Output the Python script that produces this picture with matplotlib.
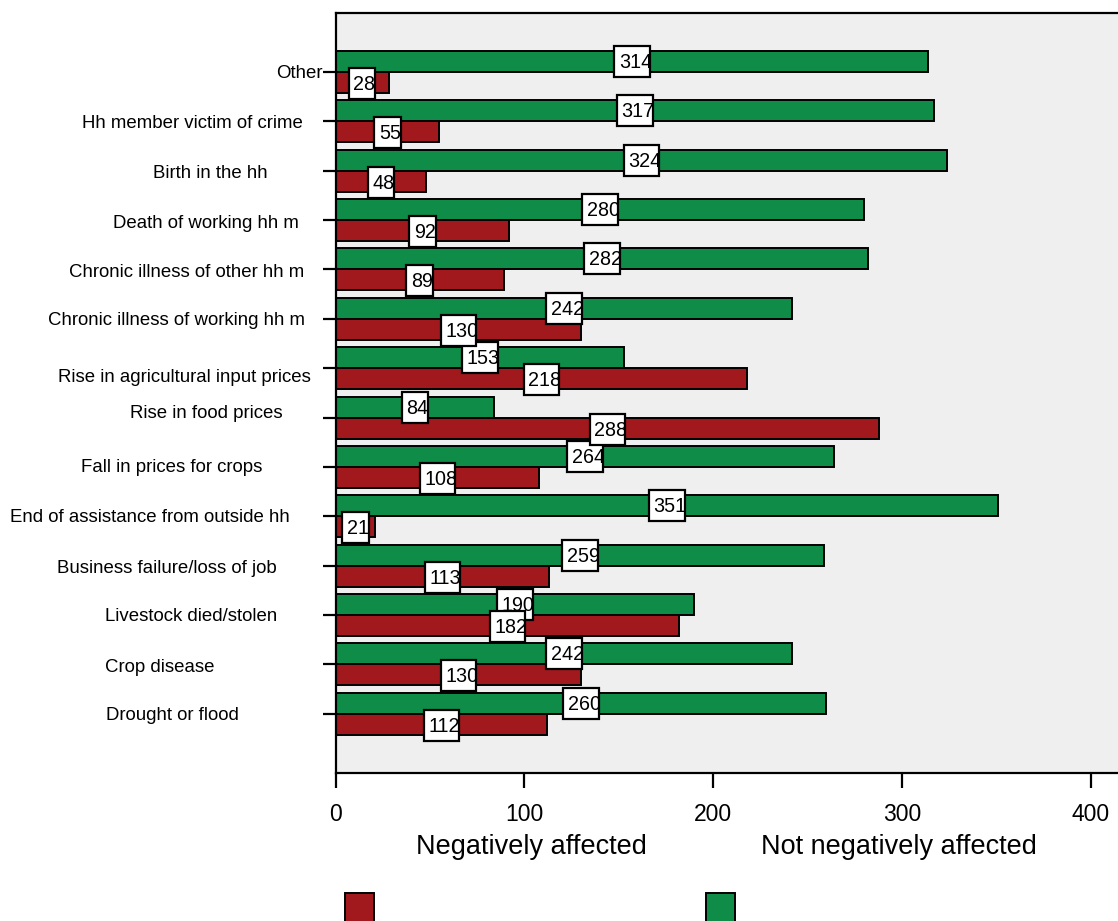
import matplotlib
matplotlib.use("Agg")
import matplotlib.pyplot as plt
from matplotlib.patches import Rectangle
from matplotlib.transforms import ScaledTranslation

# Shock categories, listed bottom to top as drawn
categories = [
    "Drought or flood",
    "Crop disease",
    "Livestock died/stolen",
    "Business failure/loss of job",
    "End of assistance from outside hh",
    "Fall in prices for crops",
    "Rise in food prices",
    "Rise in agricultural input prices",
    "Chronic illness of working hh m",
    "Chronic illness of other hh m",
    "Death of working hh m",
    "Birth in the hh",
    "Hh member victim of crime",
    "Other",
]
negatively_affected = [112, 130, 182, 113, 21, 108, 288, 218, 130, 89, 92, 48, 55, 28]
not_negatively_affected = [260, 242, 190, 259, 351, 264, 84, 153, 242, 282, 280, 324, 317, 314]
x_ticks = [0, 100, 200, 300, 400]
series_names = ["Negatively affected", "Not negatively affected"]

RED = "#a1181d"
GREEN = "#0f8c48"
BG = "#efefef"

DPI = 100
W, H = 1118, 921
fig = plt.figure(figsize=(W / DPI, H / DPI), dpi=DPI)
plt.rcParams["font.family"] = ["Liberation Sans", "DejaVu Sans"]

ax_left_px, ax_top_px, ax_bottom_px = 335.7, 12.7, 773.0
ax = fig.add_axes([ax_left_px / W, 1 - ax_bottom_px / H, 1 - ax_left_px / W,
                   (ax_bottom_px - ax_top_px) / H])
ax.set_facecolor(BG)

n = len(categories)
ypos = list(range(n))
bar_h = 0.425

ax.barh([y + bar_h / 2 for y in ypos], not_negatively_affected, height=bar_h,
        color=GREEN, edgecolor="black", linewidth=1.4, zorder=2)
ax.barh([y - bar_h / 2 for y in ypos], negatively_affected, height=bar_h,
        color=RED, edgecolor="black", linewidth=1.4, zorder=2)

ax.set_xlim(0, (W - ax_left_px) / 188.7 * 100)
ax.set_ylim(-1.2, n - 1 + 1.2)


def value_box(xc, yc, value):
    """White boxed value label centred on a bar (text clipped by its box)."""
    txt = str(value)
    w_px = 9 * len(txt) + 8.5
    h_px = 31
    trans = fig.dpi_scale_trans + ScaledTranslation(xc, yc, ax.transData)
    rect = Rectangle((-w_px / 2 / DPI, -h_px / 2 / DPI), w_px / DPI, h_px / DPI,
                     transform=trans, facecolor="white", edgecolor="black",
                     linewidth=1.6, zorder=5)
    ax.add_artist(rect)
    t = ax.annotate(txt, xy=(xc, yc), xytext=(-w_px / 2 + 4.5, -1),
                    textcoords="offset pixels", ha="left", va="center",
                    fontsize=14.2, color="black", zorder=6)
    t.set_clip_path(rect)


for y, g, r in zip(ypos, not_negatively_affected, negatively_affected):
    value_box(g / 2, y + bar_h / 2, g)
    value_box(r / 2, y - bar_h / 2 - 0.02, r)

# Axes frame: open on the right
for side in ("left", "top", "bottom"):
    ax.spines[side].set_linewidth(1.6)
    ax.spines[side].set_color("black")
ax.spines["right"].set_visible(False)

ax.set_xticks(x_ticks)
ax.set_xticklabels([str(v) for v in x_ticks], fontsize=16.5)
ax.tick_params(axis="x", direction="out", length=10.5, width=1.6, pad=11)
ax.set_yticks(ypos)
ax.set_yticklabels([])
ax.tick_params(axis="y", direction="out", length=9.5, width=1.6)

# Category labels, each centred in the label column
label_center_px = [172, 160, 191, 167, 150, 172, 206, 184, 177, 187, 206, 210, 192, 299]
label_drop_px = [2, 3, 1, 3, 1, 1, -4, 9, 2, 3, 3, 3, 2, 2]
for y, name, cx, dy in zip(ypos, categories, label_center_px, label_drop_px):
    ax.annotate(name, xy=(0, y), xytext=(cx - ax_left_px, -dy),
                textcoords="offset pixels", ha="center", va="center",
                fontsize=13.4, color="black", annotation_clip=False)

# Legend: caption above each colour swatch
legend_font = dict(family=["Liberation Sans Narrow", "Liberation Sans", "DejaVu Sans"],
                   fontsize=19.5, color="black", ha="center", va="center")
fig.text(531 / W, 1 - 847 / H, series_names[0], **legend_font)
fig.text(899 / W, 1 - 847 / H, series_names[1], **legend_font)
for x0, col in ((345, RED), (706, GREEN)):
    fig.add_artist(Rectangle((x0 / W, 1 - 925 / H), 29 / W, 32 / H,
                             transform=fig.transFigure, facecolor=col,
                             edgecolor="black", linewidth=1.4))

fig.savefig("out.png", dpi=DPI)
